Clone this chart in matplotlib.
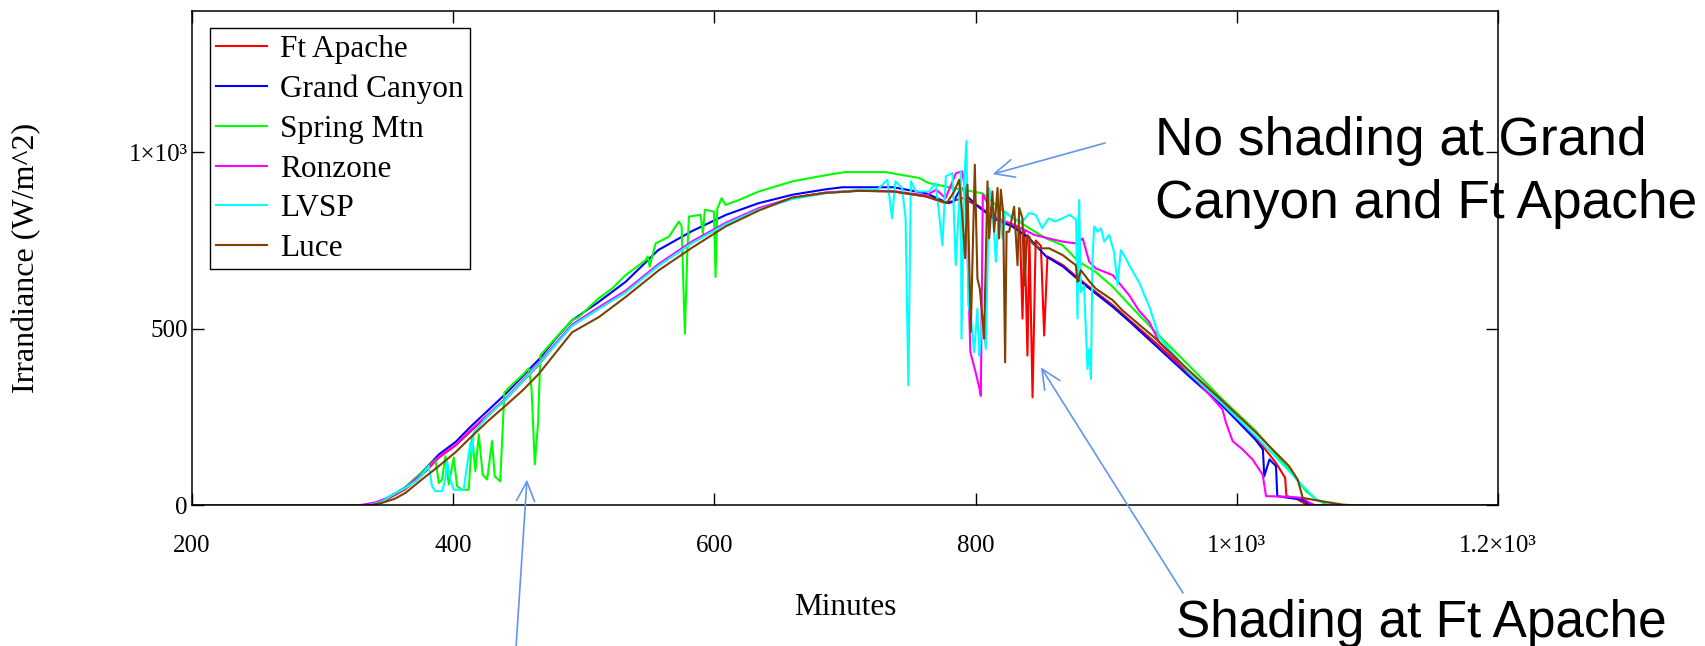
import matplotlib.pyplot as plt

plt.rcParams['font.family'] = 'Liberation Serif'

# (minute, irradiance) readings per station
ft_apache = [(200, 0), (330, 0), (345, 8), (363, 45), (376, 85), (389, 135), (402, 170), (414, 212),
             (427, 255), (440, 300), (453, 350), (466, 400), (478, 455), (491, 510), (511, 557),
             (532, 605), (557, 680), (583, 745), (609, 799), (634, 840), (660, 870), (685, 885),
             (711, 891), (737, 889), (762, 875), (777, 856), (790, 870), (803, 846), (815, 813),
             (828, 794), (834, 780), (835.9, 529), (837.5, 775), (839.7, 424), (841.2, 761),
             (843.6, 306), (846, 750), (850, 735), (852.5, 481), (855, 705), (867, 680), (879, 642),
             (892, 604), (905, 567), (918, 524), (938, 460), (963, 375), (989, 290), (1014, 195),
             (1030, 120), (1037, 78), (1038, 26), (1045, 20), (1052, 5), (1056, 0), (1200, 0)]

grand_canyon = [(200, 0), (332, 0), (340, 5), (350, 22), (363, 50), (376, 93), (389, 144), (402, 180),
                (414, 225), (427, 270), (440, 315), (453, 365), (466, 415), (478, 470), (491, 524),
                (511, 575), (532, 633), (557, 723), (583, 777), (609, 823), (634, 856), (660, 880),
                (685, 895), (698, 901), (737, 901), (762, 884), (779, 856), (783, 860), (789, 900),
                (795, 870), (803, 843), (815, 810), (828, 790), (841, 757), (854, 705), (867, 676),
                (879, 638), (892, 600), (905, 562), (918, 520), (938, 452), (963, 367), (989, 282),
                (1014, 187), (1020, 158), (1021, 82), (1025, 130), (1030, 111), (1031, 26),
                (1040, 21), (1050, 16), (1056, 2), (1060, 0), (1200, 0)]

spring_mtn = [(200, 0), (333, 0), (345, 10), (363, 50), (376, 93), (386.4, 130), (389, 63), (391.5, 73),
              (394, 139), (396.6, 59), (400.4, 135), (403, 54), (406.8, 44), (411.9, 44), (414.5, 196),
              (417, 97), (419.6, 201), (422.6, 87), (426, 73), (429.8, 182), (431.8, 82), (436, 68),
              (439.2, 320), (446, 345), (452.8, 368), (457.9, 388), (460, 329), (462.5, 116),
              (465, 234), (466.8, 425), (478, 472), (491, 524), (496, 533), (511, 585), (521.7, 614),
              (532, 652), (547.3, 694), (549, 705), (550.4, 676), (555, 742), (565.2, 761),
              (572.8, 804), (574.9, 790), (577.4, 486), (579.2, 709), (580.5, 818), (589.4, 823),
              (591.2, 770), (592.7, 837), (599.6, 832), (600.9, 647), (602.2, 840), (605.5, 870),
              (608.6, 851), (618.8, 865), (634, 889), (660, 918), (685, 935), (700, 944), (731, 944),
              (757, 927), (764, 913), (782, 899), (790, 894), (805, 884), (823, 828), (841, 785),
              (854, 756), (866.6, 737), (879, 690), (892, 661), (905, 619), (918, 567), (938, 490),
              (963.6, 395), (989, 300), (1014.7, 210), (1040, 101), (1053, 40), (1061, 16),
              (1070, 0), (1200, 0)]

ronzone = [(200, 0), (328, 0), (340, 8), (350, 20), (363, 48), (376, 88), (389, 138), (402, 172),
           (414, 215), (440, 302), (466, 405), (491, 512), (511, 560), (532, 608), (557, 683),
           (583, 748), (609, 801), (634, 842), (660, 871), (685, 886), (711, 892), (737, 890),
           (762, 878), (770, 894), (777, 870), (785, 941), (789.8, 946), (792.5, 880), (796, 434),
           (800, 377), (803, 330), (804, 310), (805.5, 880), (815, 816), (828, 797), (835, 785),
           (845, 766), (856, 756), (866.6, 747), (876.8, 742), (882, 756), (887, 690), (892, 671),
           (905, 652), (917.6, 595), (925, 552), (933, 519), (940.6, 462), (963.6, 377), (989, 272),
           (991.7, 234), (996.8, 182), (1004.5, 158), (1012, 130), (1019.8, 87), (1022.4, 26),
           (1040, 24), (1050.5, 21), (1055.6, 7), (1060, 0), (1200, 0)]

lvsp = [(200, 0), (335, 0), (345, 10), (356, 35), (363, 48), (372, 70), (376, 85), (381.3, 111),
        (383.8, 54), (386.4, 40), (391.5, 40), (394, 73), (395.3, 125), (397.9, 73), (400.4, 44),
        (408, 44), (410.6, 111), (413.2, 177), (414.5, 144), (415.7, 206), (427, 255), (440, 300),
        (466, 402), (491, 508), (511, 555), (532, 603), (557, 678), (583, 743), (609, 797),
        (634, 838), (660, 868), (685, 884), (711, 893), (725, 895), (732.4, 922), (736, 813),
        (738.6, 918), (743.7, 899), (746.4, 813), (748.5, 340), (750.4, 918), (754.2, 889),
        (761.9, 889), (764.4, 889), (769.5, 913), (774.6, 737), (777.2, 932), (782.3, 941),
        (784.8, 680), (788.7, 946), (789.2, 472), (791.2, 913), (793, 1032), (794.5, 567),
        (796.3, 538), (798.9, 434), (801.4, 557), (802.7, 424), (805.3, 529), (807.8, 443),
        (810.4, 899), (812.9, 851), (815.5, 690), (818, 842), (820.6, 756), (823.1, 832),
        (828.2, 813), (836, 804), (841, 828), (846, 823), (851, 785), (856, 813), (861, 804),
        (866.6, 813), (872, 823), (877, 809), (878, 529), (879.3, 865), (880.6, 604), (883, 623),
        (885.7, 386), (887, 443), (888.3, 358), (889.5, 699), (890.8, 790), (893.4, 775),
        (896, 785), (898.5, 747), (902.3, 766), (906, 718), (908.7, 624), (911.2, 723), (915, 700),
        (917.6, 680), (925, 633), (933, 563), (940.6, 476), (963.6, 375), (989, 288),
        (1014.7, 195), (1040, 97), (1053, 45), (1061, 16), (1071, 6), (1078, 0), (1200, 0)]

luce = [(200, 0), (336, 0), (345.5, 7), (355, 18), (363.4, 35), (376, 73), (389, 111), (401.7, 150),
        (414.4, 196), (427, 240), (440, 282), (453, 325), (465.5, 372), (478, 430), (491, 490),
        (511.5, 533), (532, 590), (557.5, 666), (583, 730), (608.6, 790), (634, 835), (659.6, 872),
        (685, 885), (710.7, 891), (737, 889), (762, 875), (774.6, 861), (778, 856), (783.6, 889),
        (787.4, 922), (790, 813), (792, 700), (793.8, 908), (796.3, 491), (799.4, 965),
        (801.4, 642), (803.2, 614), (805.3, 529), (806.5, 472), (809.1, 918), (810.4, 756),
        (812.9, 889), (814.2, 775), (816.8, 899), (818, 756), (819.3, 894), (821.1, 832),
        (822.6, 405), (823.7, 775), (825.7, 775), (829.5, 846), (832.1, 680), (833.4, 842),
        (835.9, 813), (837.2, 623), (839.7, 766), (843.6, 742), (848.7, 728), (856.3, 728),
        (866.6, 709), (876.8, 680), (878, 633), (880.6, 666), (887, 635), (892, 614), (905, 581),
        (912.5, 552), (938, 472), (963.6, 381), (989, 296), (1014.7, 206), (1040, 111),
        (1046.6, 73), (1050.5, 21), (1066, 11), (1081, 2), (1090, 0), (1200, 0)]

station_names = ['Ft Apache', 'Grand Canyon', 'Spring Mtn', 'Ronzone', 'LVSP', 'Luce']
station_data = [ft_apache, grand_canyon, spring_mtn, ronzone, lvsp, luce]
station_colors = ['#ff0000', '#0000ff', '#00ff00', '#ff00ff', '#00ffff', '#804000']

x_ticks = [200, 400, 600, 800, 1000, 1200]
x_tick_labels = ['200', '400', '600', '800', '1×10³', '1.2×10³']
y_ticks = [0, 500, 1000]
y_tick_labels = ['0', '500', '1×10³']

fig = plt.figure(figsize=(17.05, 6.46), dpi=100)
ax = fig.add_axes([0.1126, 0.2178, 0.766, 0.765])

for name, pts, col in zip(station_names, station_data, station_colors):
    t, v = zip(*pts)
    ax.plot(t, v, color=col, lw=1.5, label=name)

ax.set_xlim(200, 1200)
ax.set_ylim(0, 1400)
ax.set_xticks(x_ticks)
ax.set_xticklabels(x_tick_labels)
ax.set_yticks(y_ticks)
ax.set_yticklabels(y_tick_labels)
ax.tick_params(direction='in', length=8.5, width=1, top=True, right=True, labelsize=18)
ax.tick_params(axis='x', pad=33.5)
ax.tick_params(axis='y', pad=3)
for lbl in ax.get_xticklabels():
    lbl.set_va('baseline')
for sp in ax.spines.values():
    sp.set_linewidth(1.1)

ax.set_xlabel('Minutes', fontsize=22.5)
ax.xaxis.set_label_coords(0.5, -0.177)
ax.set_ylabel('Irrandiance (W/m^2)', fontsize=23)
ax.yaxis.set_label_coords(-0.1151, 0.5)

leg = ax.legend(loc='upper left', bbox_to_anchor=(0.0138, 0.965), borderaxespad=0,
                fontsize=22.5, fancybox=False, framealpha=1, edgecolor='black',
                handlelength=1.63, handletextpad=0.42, labelspacing=0.345, borderpad=0.2)
leg.get_frame().set_linewidth(1.0)

# callouts
arrow_col = '#6495ed'
arrow_kw = dict(arrowstyle='->,head_length=1.4,head_width=0.65', color=arrow_col, lw=1.2,
                shrinkA=0, shrinkB=0)
ax.annotate('', xy=(813, 938), xycoords='data', xytext=(1105, 503),
            textcoords='figure pixels', arrowprops=arrow_kw, annotation_clip=False)
ax.annotate('', xy=(850, 391), xycoords='data', xytext=(1183, 53),
            textcoords='figure pixels', arrowprops=arrow_kw, annotation_clip=False)
ax.annotate('', xy=(456.5, 73), xycoords='data', xytext=(516, -2),
            textcoords='figure pixels', arrowprops=arrow_kw, annotation_clip=False)

fig.text(1155 / 1705, 428 / 646, 'No shading at Grand\nCanyon and Ft Apache',
         family='Liberation Sans', fontsize=38.3, ha='left', va='baseline', linespacing=1.33)
fig.text(1176 / 1705, 9 / 646, 'Shading at Ft Apache',
         family='Liberation Sans', fontsize=37, ha='left', va='baseline')

fig.savefig('out.png', dpi=100)
